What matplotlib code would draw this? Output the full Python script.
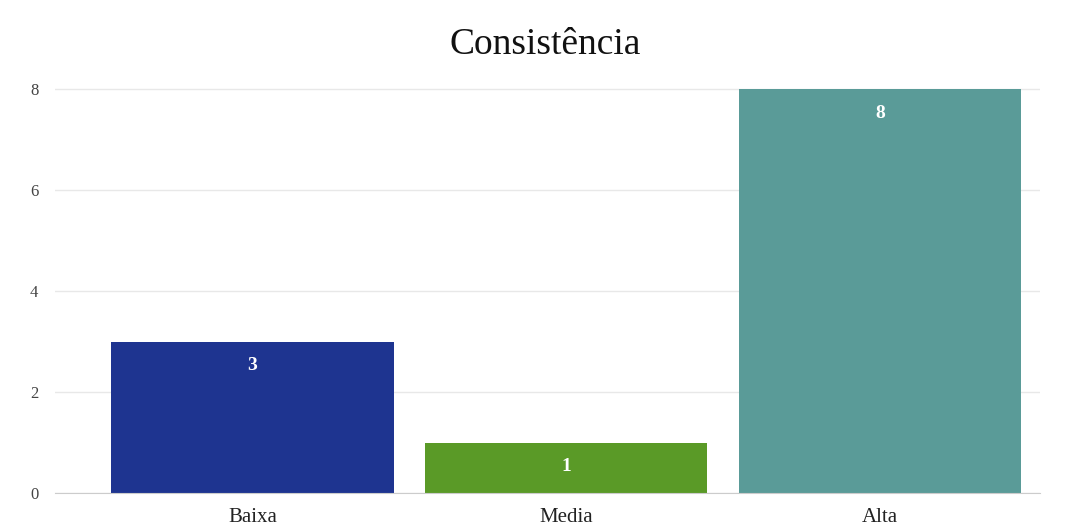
import matplotlib
matplotlib.use("Agg")
import matplotlib.pyplot as plt

categorias = ["Baixa", "Media", "Alta"]
valores = [3, 1, 8]
cores = ["#1e3490", "#5a9a27", "#5a9b98"]
yticks = [0, 2, 4, 6, 8]

plt.rcParams['font.family'] = ['Liberation Serif', 'DejaVu Serif']

fig = plt.figure(figsize=(10.67, 5.32), dpi=100)
ax = fig.add_axes([0.0515, 0.0733, 0.923, 0.7613])

x = range(len(categorias))
bars = ax.bar(x, valores, width=0.9, color=cores, zorder=3)

for b, v in zip(bars, valores):
    ax.text(b.get_x() + b.get_width() / 2, v - 0.48, str(v), ha="center", va="center",
            color="white", fontsize=14, fontweight="bold", zorder=4)

ax.set_xlim(-0.63, 2.51)
ax.set_ylim(0, 8.02)
ax.set_yticks(yticks)
ax.set_xticks(list(x))
ax.set_xticklabels(categorias, fontsize=15)
ax.tick_params(axis="y", labelsize=12, length=0, pad=12, labelcolor="#444444")
ax.tick_params(axis="x", length=0, pad=11, labelcolor="#222222")
ax.grid(axis="y", color="#e8e8e8", linewidth=1, zorder=0)
for s in ["top", "right", "left"]:
    ax.spines[s].set_visible(False)
ax.spines["bottom"].set_color("#cccccc")
ax.spines["bottom"].set_zorder(5)

fig.text(0.511, 0.915, "Consistência", ha="center", va="center", fontsize=27, color="#111111")

fig.savefig("out.png", dpi=100)
